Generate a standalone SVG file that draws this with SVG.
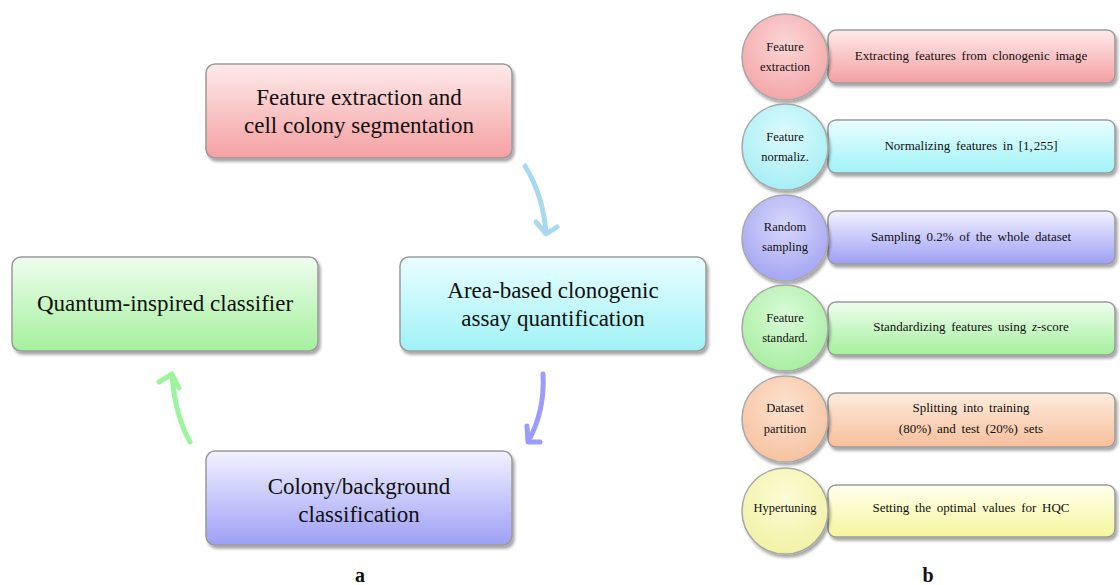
<svg xmlns="http://www.w3.org/2000/svg" width="1120" height="585" viewBox="0 0 1120 585">
<defs>
<filter id="sh" x="-10%" y="-10%" width="125%" height="135%">
<feDropShadow dx="2" dy="3" stdDeviation="1.8" flood-color="#000" flood-opacity="0.35"/>
</filter>
<linearGradient id="gRed" x1="0" y1="0" x2="0" y2="1"><stop offset="0" stop-color="#fdeaea"/><stop offset="1" stop-color="#f5a0a2"/></linearGradient>
<linearGradient id="gCyan" x1="0" y1="0" x2="0" y2="1"><stop offset="0" stop-color="#eafeff"/><stop offset="1" stop-color="#9ff2f6"/></linearGradient>
<linearGradient id="gGreen" x1="0" y1="0" x2="0" y2="1"><stop offset="0" stop-color="#effdef"/><stop offset="1" stop-color="#a4f09c"/></linearGradient>
<linearGradient id="gBlue" x1="0" y1="0" x2="0" y2="1"><stop offset="0" stop-color="#f2f2ff"/><stop offset="1" stop-color="#9d9ff5"/></linearGradient>
<linearGradient id="gOrange" x1="0" y1="0" x2="0" y2="1"><stop offset="0" stop-color="#fdebdd"/><stop offset="1" stop-color="#f7bf9c"/></linearGradient>
<linearGradient id="gYellow" x1="0" y1="0" x2="0" y2="1"><stop offset="0" stop-color="#ffffee"/><stop offset="1" stop-color="#f6f69c"/></linearGradient>
<radialGradient id="cRed" cx="0.5" cy="0.35" r="0.65"><stop offset="0" stop-color="#fbd6d6"/><stop offset="1" stop-color="#f4a6a8"/></radialGradient>
<radialGradient id="cCyan" cx="0.5" cy="0.35" r="0.65"><stop offset="0" stop-color="#dcfbfd"/><stop offset="1" stop-color="#a6eef4"/></radialGradient>
<radialGradient id="cBlue" cx="0.5" cy="0.35" r="0.65"><stop offset="0" stop-color="#d8d8fb"/><stop offset="1" stop-color="#a4a6f2"/></radialGradient>
<radialGradient id="cGreen" cx="0.5" cy="0.35" r="0.65"><stop offset="0" stop-color="#dafbd8"/><stop offset="1" stop-color="#a8eea2"/></radialGradient>
<radialGradient id="cOrange" cx="0.5" cy="0.35" r="0.65"><stop offset="0" stop-color="#fde2cf"/><stop offset="1" stop-color="#f6c2a0"/></radialGradient>
<radialGradient id="cYellow" cx="0.5" cy="0.35" r="0.65"><stop offset="0" stop-color="#fbfbd6"/><stop offset="1" stop-color="#f2f2a6"/></radialGradient>
</defs>
<style>
.box{stroke:#9a9a9a;stroke-width:1.5;filter:url(#sh)}
.circ{stroke:#a8a8a8;stroke-width:1.5;filter:url(#sh)}
.big{font-family:"Liberation Serif",serif;font-size:23px;fill:#111;text-anchor:middle}
.ct{font-family:"Liberation Serif",serif;font-size:12.5px;fill:#111;text-anchor:middle}
.rt{font-family:"Liberation Serif",serif;font-size:13px;fill:#111;text-anchor:middle;word-spacing:2.5px}
.lab{font-family:"Liberation Serif",serif;font-size:20px;font-weight:bold;fill:#111;text-anchor:middle}
.arr{fill:none;stroke-width:5;stroke-linecap:round;stroke-linejoin:round}
</style>

<!-- Panel a nodes -->
<g id="node-feature-extraction">
<rect class="box" x="206" y="64" width="306" height="94" rx="9" fill="url(#gRed)"/>
<text class="big" x="359" y="105">Feature extraction and</text>
<text class="big" x="359" y="133">cell colony segmentation</text>
</g>
<g id="node-area-based">
<rect class="box" x="400" y="257" width="306" height="94" rx="9" fill="url(#gCyan)"/>
<text class="big" x="553" y="298">Area-based clonogenic</text>
<text class="big" x="553" y="326">assay quantification</text>
</g>
<g id="node-quantum">
<rect class="box" x="12" y="257" width="306" height="94" rx="9" fill="url(#gGreen)"/>
<text class="big" x="165" y="311">Quantum-inspired classifier</text>
</g>
<g id="node-colony">
<rect class="box" x="206" y="451" width="306" height="94" rx="9" fill="url(#gBlue)"/>
<text class="big" x="359" y="494">Colony/background</text>
<text class="big" x="359" y="522">classification</text>
</g>

<!-- Panel a connectors -->
<g id="connectors">
<path class="arr" stroke="#a9d9ef" d="M525,166 Q543,195 546,233"/>
<path class="arr" stroke="#a9d9ef" d="M536,222 L546,234 L557,227"/>
<path class="arr" stroke="#9b9cfb" d="M543,374 Q545,410 529,440"/>
<path class="arr" stroke="#9b9cfb" d="M527,426 L528,442 L540,442"/>
<path class="arr" stroke="#9cf59c" d="M190,442 Q175,415 172,375"/>
<path class="arr" stroke="#9cf59c" d="M159,382 L172,374 L179,388"/>
</g>

<!-- Panel b -->
<g id="step-feature-extraction">
<rect class="box" x="828" y="30" width="287" height="53" rx="8" fill="url(#gRed)"/>
<circle class="circ" cx="785" cy="57" r="43" fill="url(#cRed)"/>
<text class="ct" x="785" y="51">Feature</text>
<text class="ct" x="785" y="71">extraction</text>
<text class="rt" x="971" y="60">Extracting features from clonogenic image</text>
</g>
<g id="step-feature-normaliz">
<rect class="box" x="828" y="120" width="287" height="53" rx="8" fill="url(#gCyan)"/>
<circle class="circ" cx="785" cy="147" r="43" fill="url(#cCyan)"/>
<text class="ct" x="785" y="141">Feature</text>
<text class="ct" x="785" y="161">normaliz.</text>
<text class="rt" x="971" y="150">Normalizing features in [1,<tspan dx="1">255]</tspan></text>
</g>
<g id="step-random-sampling">
<rect class="box" x="828" y="211" width="287" height="53" rx="8" fill="url(#gBlue)"/>
<circle class="circ" cx="785" cy="238" r="43" fill="url(#cBlue)"/>
<text class="ct" x="785" y="231">Random</text>
<text class="ct" x="785" y="251">sampling</text>
<text class="rt" x="971" y="241">Sampling 0.2% of the whole dataset</text>
</g>
<g id="step-feature-standard">
<rect class="box" x="828" y="302" width="287" height="53" rx="8" fill="url(#gGreen)"/>
<circle class="circ" cx="785" cy="328" r="43" fill="url(#cGreen)"/>
<text class="ct" x="785" y="322">Feature</text>
<text class="ct" x="785" y="342">standard.</text>
<text class="rt" x="971" y="331">Standardizing features using <tspan font-style="italic">z</tspan>-score</text>
</g>
<g id="step-dataset-partition">
<rect class="box" x="828" y="393" width="287" height="54" rx="8" fill="url(#gOrange)"/>
<circle class="circ" cx="785" cy="419" r="43" fill="url(#cOrange)"/>
<text class="ct" x="785" y="412">Dataset</text>
<text class="ct" x="785" y="433">partition</text>
<text class="rt" x="971" y="412">Splitting into training</text>
<text class="rt" x="971" y="433">(80%) and test (20%) sets</text>
</g>
<g id="step-hypertuning">
<rect class="box" x="828" y="485" width="287" height="52" rx="8" fill="url(#gYellow)"/>
<circle class="circ" cx="785" cy="511" r="43" fill="url(#cYellow)"/>
<text class="ct" x="785" y="512">Hypertuning</text>
<text class="rt" x="971" y="512">Setting the optimal values for HQC</text>
</g>

<text class="lab" x="360" y="582">a</text>
<text class="lab" x="928" y="582">b</text>
</svg>
